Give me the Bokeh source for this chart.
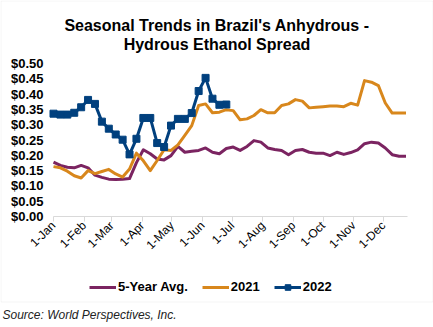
import datetime as dt
import math
from bokeh.plotting import figure
from bokeh.models import (Range1d, FixedTicker, Legend, LegendItem, Label,
                          BoxAnnotation, ColumnDataSource, NumeralTickFormatter)
from bokeh.embed import file_html
from bokeh.resources import INLINE

# ---------------- data ----------------
YEAR = 2022
month_labels = ["1-Jan", "1-Feb", "1-Mar", "1-Apr", "1-May", "1-Jun",
                "1-Jul", "1-Aug", "1-Sep", "1-Oct", "1-Nov", "1-Dec"]
y_ticks = [0.00, 0.05, 0.10, 0.15, 0.20, 0.25, 0.30, 0.35, 0.40, 0.45, 0.50]

avg_5yr = [0.178, 0.167, 0.161, 0.159, 0.167, 0.159, 0.135, 0.128, 0.122, 0.121,
           0.122, 0.124, 0.176, 0.218, 0.205, 0.188, 0.185, 0.199, 0.229, 0.210,
           0.213, 0.216, 0.224, 0.210, 0.205, 0.222, 0.227, 0.216, 0.229, 0.248,
           0.243, 0.224, 0.219, 0.216, 0.202, 0.216, 0.219, 0.210, 0.207, 0.207,
           0.199, 0.210, 0.203, 0.209, 0.218, 0.238, 0.243, 0.240, 0.224, 0.202,
           0.197, 0.197]
y2021 = [0.163, 0.159, 0.148, 0.133, 0.126, 0.150, 0.140, 0.147, 0.154, 0.139,
         0.129, 0.155, 0.207, 0.182, 0.150, 0.183, 0.218, 0.216, 0.234, 0.265,
         0.297, 0.363, 0.368, 0.339, 0.341, 0.349, 0.346, 0.316, 0.319, 0.330,
         0.349, 0.339, 0.339, 0.363, 0.368, 0.382, 0.377, 0.355, 0.357, 0.359,
         0.361, 0.361, 0.359, 0.370, 0.364, 0.444, 0.439, 0.428, 0.371, 0.338,
         0.338, 0.338]
y2022 = [0.336, 0.333, 0.333, 0.339, 0.357, 0.381, 0.368, 0.310, 0.287, 0.268,
         0.251, 0.203, 0.254, 0.322, 0.322, 0.240, 0.227, 0.297, 0.319, 0.319,
         0.338, 0.410, 0.453, 0.385, 0.365, 0.366]

# weekly observations (day offsets from 1-Jan) and month-start tick positions
start = dt.date(YEAR, 1, 1)
week_days = [7 * i for i in range(len(avg_5yr))]
month_days = [(dt.date(YEAR, m, 1) - start).days for m in range(1, 13)]

C_AVG = "#7B2461"
C_2021 = "#D8871C"
C_2022 = "#01407E"
FONT = "Liberation Sans"

# ---------------- geometry ----------------
W, H = 433, 327
AX_LEFT, AX_RIGHT = 53, 407          # pixel span of the date axis
AX_BOTTOM, AX_TOP = 216, 63          # pixel rows of $0.00 and $0.50
DAY_END = 358.5
PXX = (AX_RIGHT - AX_LEFT) / DAY_END
PXY = (AX_BOTTOM - AX_TOP) / 0.5


def xd(px):  # canvas pixel column -> data x
    return (px - AX_LEFT) / PXX


def yd(py):  # canvas pixel row -> data y
    return (AX_BOTTOM - py) / PXY


p = figure(width=W, height=H, output_backend="svg", toolbar_location=None,
           x_range=Range1d(xd(0), xd(W)), y_range=Range1d(yd(H), yd(0)),
           min_border_left=0, min_border_right=0, min_border_top=0,
           min_border_bottom=0)
p.background_fill_color = "white"
p.border_fill_color = "white"
p.outline_line_color = None
p.xgrid.visible = False
p.ygrid.visible = False

src_avg = ColumnDataSource(dict(x=week_days, y=avg_5yr))
src_21 = ColumnDataSource(dict(x=week_days[:len(y2021)], y=y2021))
src_22 = ColumnDataSource(dict(x=week_days[:len(y2022)], y=y2022))

r_avg = p.line("x", "y", source=src_avg, line_color=C_AVG, line_width=3, line_join="round")
r_21 = p.line("x", "y", source=src_21, line_color=C_2021, line_width=3, line_join="round")
r_22 = p.line("x", "y", source=src_22, line_color=C_2022, line_width=3, line_join="round")
r_22m = p.scatter("x", "y", source=src_22, marker="square", size=7,
                  fill_color=C_2022, line_color=C_2022)

# y axis (drawn at 1-Jan)
p.yaxis.fixed_location = 0
p.yaxis.bounds = (0, 0.5)
p.yaxis.ticker = FixedTicker(ticks=y_ticks)
p.yaxis.formatter = NumeralTickFormatter(format="$0.00")
p.yaxis.axis_line_color = None
p.yaxis.major_tick_line_color = None
p.yaxis.minor_tick_line_color = None
p.yaxis.major_tick_out = 0
p.yaxis.major_tick_in = 0
p.yaxis.major_label_standoff = 10
p.yaxis.major_label_text_font = FONT
p.yaxis.major_label_text_font_style = "bold"
p.yaxis.major_label_text_font_size = "13px"
p.yaxis.major_label_text_color = "black"

# x axis (drawn at $0.00)
p.xaxis.fixed_location = 0
p.xaxis.bounds = (0, DAY_END)
p.xaxis.ticker = FixedTicker(ticks=month_days)
p.xaxis.major_label_overrides = {d: lab for d, lab in zip(month_days, month_labels)}
p.xaxis.axis_line_color = "#D9D9D9"
p.xaxis.major_tick_line_color = "#D9D9D9"
p.xaxis.minor_tick_line_color = None
p.xaxis.major_tick_out = 5
p.xaxis.major_tick_in = 0
p.xaxis.major_label_orientation = math.pi / 4
p.xaxis.major_label_standoff = 2
p.xaxis.major_label_text_font = FONT
p.xaxis.major_label_text_font_size = "12px"
p.xaxis.major_label_text_color = "black"

# title (two lines)
for txt, base in (("Seasonal Trends in Brazil's Anhydrous -", 24.5),
                  ("Hydrous Ethanol Spread", 43.5)):
    p.add_layout(Label(x=xd(216.5), y=yd(base), text=txt, text_font=FONT,
                       text_font_size="16px", text_font_style="bold",
                       text_color="black", text_align="center",
                       text_baseline="alphabetic"))

# legend below the axis labels
legend = Legend(items=[LegendItem(label="5-Year Avg.", renderers=[r_avg]),
                       LegendItem(label="2021", renderers=[r_21]),
                       LegendItem(label="2022", renderers=[r_22, r_22m])],
                orientation="horizontal", location=(89, 33),
                label_text_font=FONT, label_text_font_size="13px",
                label_text_font_style="bold", label_text_color="black",
                glyph_width=27, glyph_height=14, label_standoff=2, spacing=14,
                padding=4, margin=0, border_line_color=None,
                background_fill_alpha=0)
p.add_layout(legend, "center")

# light grey chart border
p.add_layout(BoxAnnotation(left=xd(0.5), right=xd(432.5), top=yd(0.5), bottom=yd(301.5),
                           fill_alpha=0, line_color="#D9D9D9", line_width=1))

# source note
p.add_layout(Label(x=xd(2), y=yd(314), text="Source: World Perspectives, Inc.",
                   text_font=FONT, text_font_size="12px", text_font_style="italic",
                   text_color="#222222", text_baseline="middle", text_align="left"))

open("out.html", "w").write(file_html(p, INLINE))
